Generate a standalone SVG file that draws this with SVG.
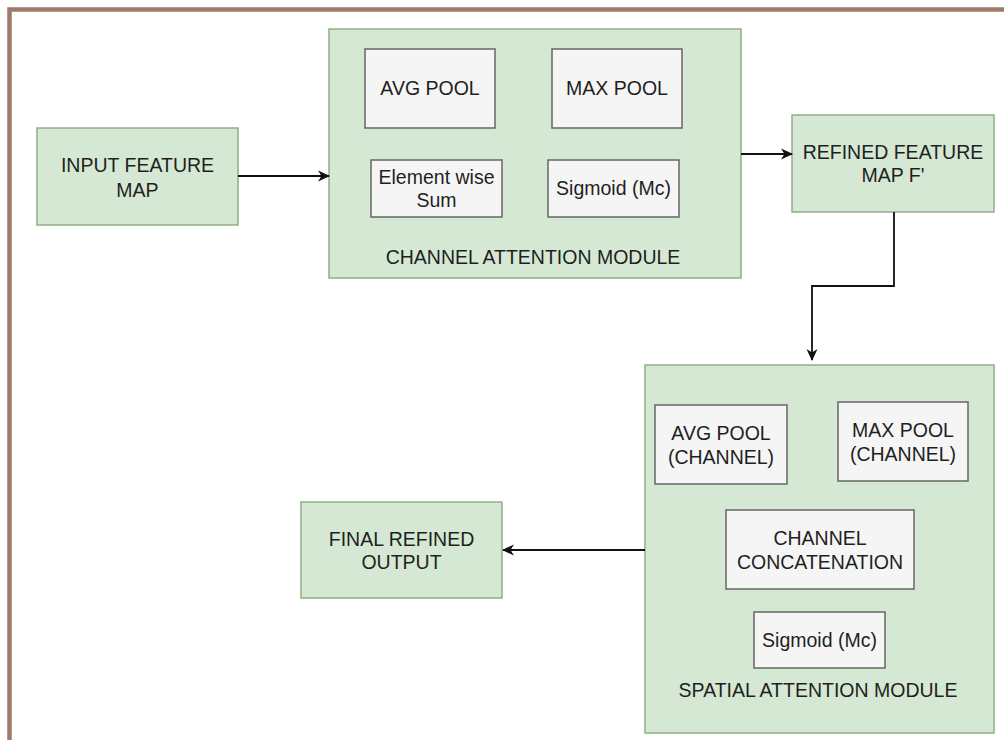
<svg xmlns="http://www.w3.org/2000/svg" width="1004" height="740" viewBox="0 0 1004 740">
<style>
.frame{fill:none;stroke:#9c7b6a;stroke-width:4.5}
.green{fill:#d5e8d4;stroke:#93ad88;stroke-width:1.5}
.inner{fill:#f5f5f5;stroke:#666;stroke-width:1.5}
text{font-family:"Liberation Sans",Arial,sans-serif;font-size:19.5px;fill:#1f1f1f;text-anchor:middle}
.conn{fill:none;stroke:#111;stroke-width:1.8}
</style>
<defs>
<marker id="arr" viewBox="0 0 12 12" refX="11" refY="6" markerWidth="12" markerHeight="12" markerUnits="userSpaceOnUse" orient="auto">
<path d="M0,0.5 L12,6 L0,11.5 L3.5,6 Z" fill="#111"/>
</marker>
</defs>
<rect width="1004" height="740" fill="#ffffff"/>
<path class="frame" d="M9.5,740 V9.5 H1004"/>

<g id="input">
<rect class="green" x="37" y="128" width="201" height="97"/>
<text x="137.5" y="172">INPUT FEATURE</text>
<text x="137.5" y="197">MAP</text>
</g>

<g id="channel-module">
<rect class="green" x="329" y="29" width="412" height="249"/>
<text x="533" y="264">CHANNEL ATTENTION MODULE</text>
</g>
<g id="cam-avg">
<rect class="inner" x="365" y="49" width="130" height="79"/>
<text x="430" y="95">AVG POOL</text>
</g>
<g id="cam-max">
<rect class="inner" x="552" y="49" width="130" height="79"/>
<text x="617" y="95">MAX POOL</text>
</g>
<g id="cam-sum">
<rect class="inner" x="371" y="160" width="131" height="57"/>
<text x="436.5" y="184">Element wise</text>
<text x="436.5" y="207">Sum</text>
</g>
<g id="cam-sigmoid">
<rect class="inner" x="548" y="160" width="131" height="57"/>
<text x="613.5" y="195">Sigmoid (Mc)</text>
</g>

<g id="refined">
<rect class="green" x="792" y="115" width="202" height="97"/>
<text x="893" y="159">REFINED FEATURE</text>
<text x="893" y="182">MAP F'</text>
</g>

<g id="spatial-module">
<rect class="green" x="645" y="365" width="349" height="368"/>
<text x="818" y="697">SPATIAL ATTENTION MODULE</text>
</g>
<g id="sam-avg">
<rect class="inner" x="655" y="405" width="132" height="79"/>
<text x="721" y="440">AVG POOL</text>
<text x="721" y="464">(CHANNEL)</text>
</g>
<g id="sam-max">
<rect class="inner" x="838" y="402" width="130" height="79"/>
<text x="903" y="437">MAX POOL</text>
<text x="903" y="461">(CHANNEL)</text>
</g>
<g id="sam-concat">
<rect class="inner" x="726" y="510" width="188" height="79"/>
<text x="820" y="545">CHANNEL</text>
<text x="820" y="569">CONCATENATION</text>
</g>
<g id="sam-sigmoid">
<rect class="inner" x="754" y="612" width="131" height="56"/>
<text x="819.5" y="647">Sigmoid (Mc)</text>
</g>

<g id="final">
<rect class="green" x="301" y="502" width="201" height="96"/>
<text x="401.5" y="546">FINAL REFINED</text>
<text x="401.5" y="569">OUTPUT</text>
</g>

<g id="connectors">
<path class="conn" d="M238,176 H329" marker-end="url(#arr)"/>
<path class="conn" d="M741,154 H792" marker-end="url(#arr)"/>
<path class="conn" d="M894,212 V286 H812 V360" marker-end="url(#arr)"/>
<path class="conn" d="M645,550 H503" marker-end="url(#arr)"/>
</g>
</svg>
